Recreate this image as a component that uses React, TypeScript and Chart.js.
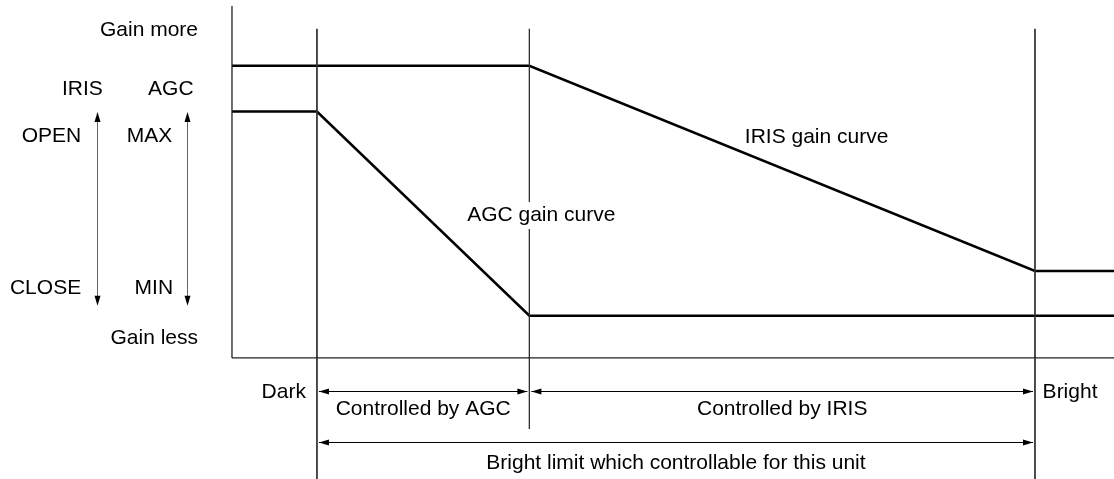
import React, { useEffect, useRef } from "react";
import { Chart, registerables } from "chart.js";

Chart.register(...registerables);

// Brightness axis (x): 0 = axis origin, boundaries of the control regions
const darkLimit = 1;
const agcToIris = 3.5;
const brightLimit = 9.45;
const xMin = -2.73;
const xMax = 10.38;

// Gain axis (y)
const yMin = -34.4;
const yMax = 101.7;
const yAxisTop = 100;

// IRIS gain curve
const irisX = [0, agcToIris, brightLimit, xMax];
const irisY = [83, 83, 24.7, 24.7];

// AGC gain curve
const agcX = [0, darkLimit, agcToIris, xMax];
const agcY = [70, 70, 12, 12];

// Vertical boundary lines: x, top, bottom
const boundaryX = [darkLimit, agcToIris, brightLimit];
const boundaryTop = [93.5, 93.5, 93.5];
const boundaryBottom = [yMin, -20.2, yMin];

const FONT = '21px "Liberation Sans", Arial, Helvetica, sans-serif';

type Txt = { t: string; x: number; y: number; align: CanvasTextAlign; mask?: boolean };
const texts: Txt[] = [
  { t: "Gain more", x: -0.4, y: 93.2, align: "right" },
  { t: "IRIS", x: -1.76, y: 76.4, align: "center" },
  { t: "AGC", x: -0.72, y: 76.4, align: "center" },
  { t: "OPEN", x: -1.775, y: 63.1, align: "right" },
  { t: "MAX", x: -0.97, y: 63.1, align: "center" },
  { t: "CLOSE", x: -1.775, y: 19.9, align: "right" },
  { t: "MIN", x: -0.92, y: 19.9, align: "center" },
  { t: "Gain less", x: -0.4, y: 5.7, align: "right" },
  { t: "IRIS gain curve", x: 6.88, y: 62.8, align: "center" },
  { t: "AGC gain curve", x: 3.64, y: 40.6, align: "center", mask: true },
  { t: "Dark", x: 0.87, y: -9.6, align: "right" },
  { t: "Bright", x: 9.54, y: -9.6, align: "left" },
  { t: "Controlled by AGC", x: (darkLimit + agcToIris) / 2, y: -14.5, align: "center" },
  { t: "Controlled by IRIS", x: (agcToIris + brightLimit) / 2, y: -14.5, align: "center" },
  { t: "Bright limit which controllable for this unit", x: (darkLimit + brightLimit) / 2, y: -29.8, align: "center" },
];

// double arrows: horizontal [x1, x2, y], vertical [x, y1, y2]
const hArrows = [
  [darkLimit, agcToIris, -9.4],
  [agcToIris, brightLimit, -9.4],
  [darkLimit, brightLimit, -23.9],
];
const vArrows = [
  [-1.588, 69.9, 14.8],
  [-0.529, 69.9, 14.8],
];

const annotate = {
  id: "annotate",
  afterDatasetsDraw(chart: any) {
    const ctx: CanvasRenderingContext2D = chart.ctx;
    const xs = chart.scales.x;
    const ys = chart.scales.y;
    const px = (v: number) => xs.getPixelForValue(v);
    const py = (v: number) => ys.getPixelForValue(v);
    ctx.save();
    ctx.strokeStyle = "#000";
    ctx.fillStyle = "#000";
    ctx.lineWidth = 1;
    const head = (x: number, y: number, dx: number, dy: number) => {
      const L = 10, W = 3;
      ctx.beginPath();
      ctx.moveTo(x, y);
      ctx.lineTo(x - dx * L - dy * W, y - dy * L - dx * W);
      ctx.lineTo(x - dx * L + dy * W, y - dy * L + dx * W);
      ctx.closePath();
      ctx.fill();
    };
    for (const [a, b, y] of hArrows) {
      const x1 = px(a) + 2, x2 = px(b) - 2, yy = Math.round(py(y)) + 0.5;
      ctx.beginPath();
      ctx.moveTo(x1, yy);
      ctx.lineTo(x2, yy);
      ctx.stroke();
      head(x1, yy, -1, 0);
      head(x2, yy, 1, 0);
    }
    ctx.strokeStyle = "#666";
    for (const [x, a, b] of vArrows) {
      const xx = Math.round(px(x)) + 0.5, y1 = py(a), y2 = py(b);
      ctx.beginPath();
      ctx.moveTo(xx, y1 + 4);
      ctx.lineTo(xx, y2 - 4);
      ctx.stroke();
      head(xx, y1, 0, -1);
      head(xx, y2, 0, 1);
    }
    ctx.font = FONT;
    ctx.textBaseline = "middle";
    for (const tx of texts) {
      ctx.textAlign = tx.align;
      const x = px(tx.x), y = py(tx.y);
      if (tx.mask) {
        const w = ctx.measureText(tx.t).width;
        const left = tx.align === "center" ? x - w / 2 : tx.align === "right" ? x - w : x;
        ctx.fillStyle = "#fff";
        ctx.fillRect(left - 2, y - 13, w + 4, 27);
      }
      ctx.fillStyle = "#000";
      ctx.fillText(tx.t, x, y);
    }
    ctx.restore();
  },
};

export default function App() {
  const ref = useRef<HTMLCanvasElement>(null);
  useEffect(() => {
    if (!ref.current) return;
    const lineDs = (xsArr: number[], ysArr: number[], width: number, color: string) => ({
      data: xsArr.map((x, i) => ({ x, y: ysArr[i] })),
      showLine: true,
      borderColor: color,
      borderWidth: width,
      pointRadius: 0,
      fill: false,
      tension: 0,
      clip: false as any,
    });
    const datasets: any[] = [
      lineDs([0, 0], [yAxisTop, 0], 1.3, "#222"),
      lineDs([0, xMax], [0, 0], 1.3, "#222"),
      ...boundaryX.map((bx, i) => lineDs([bx, bx], [boundaryTop[i], boundaryBottom[i]], 1, "#333")),
      lineDs(irisX, irisY, 2.6, "#000"),
      lineDs(agcX, agcY, 2.6, "#000"),
    ];
    const chart = new Chart(ref.current, {
      type: "scatter",
      data: { datasets },
      options: {
        animation: false,
        responsive: false,
        devicePixelRatio: 1,
        layout: { padding: 0 },
        plugins: { legend: { display: false }, tooltip: { enabled: false } },
        scales: {
          x: { type: "linear", min: xMin, max: xMax, display: false },
          y: { type: "linear", min: yMin, max: yMax, display: false },
        },
      },
      plugins: [annotate],
    });
    return () => chart.destroy();
  }, []);
  return (
    <div style={{ position: "fixed", left: 0, top: 0, width: 1114, height: 479, background: "#fff" }}>
      <canvas ref={ref} width={1114} height={479} style={{ width: 1114, height: 479, display: "block" }} />
    </div>
  );
}
